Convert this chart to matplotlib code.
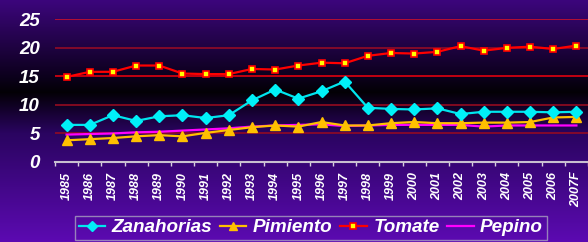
import numpy as np
import matplotlib.pyplot as plt
from matplotlib.colors import LinearSegmentedColormap

anios = ["1985", "1986", "1987", "1988", "1989", "1990", "1991", "1992", "1993",
         "1994", "1995", "1996", "1997", "1998", "1999", "2000", "2001", "2002",
         "2003", "2004", "2005", "2006", "2007F"]
zanahorias = [6.5, 6.5, 8.2, 7.2, 8.0, 8.2, 7.7, 8.2, 10.8, 12.7, 11.1, 12.4,
              14.1, 9.5, 9.3, 9.2, 9.4, 8.4, 8.8, 8.8, 8.8, 8.7, 8.8]
pimiento = [3.8, 4.0, 4.2, 4.5, 4.7, 4.5, 5.1, 5.6, 6.1, 6.4, 6.2, 7.0,
            6.4, 6.4, 6.8, 7.0, 6.8, 6.8, 6.9, 6.9, 7.0, 7.8, 7.9]
tomate = [14.9, 15.8, 15.8, 16.9, 16.9, 15.5, 15.4, 15.4, 16.3, 16.2, 16.9, 17.4,
          17.3, 18.6, 19.1, 19.0, 19.3, 20.3, 19.5, 20.0, 20.2, 19.8, 20.4]
pepino = [4.8, 4.9, 5.0, 5.2, 5.3, 5.5, 5.7, 5.9, 6.2, 6.4, 6.5, 6.6,
          6.3, 6.4, 6.5, 6.5, 6.5, 6.5, 6.2, 6.4, 6.4, 6.4, 6.4]

plt.rcParams['font.family'] = ['Liberation Sans', 'DejaVu Sans']

fig = plt.figure(figsize=(5.88, 2.42), dpi=100)

# fondo degradado morado - negro - morado
bg = fig.add_axes([0, 0, 1, 1], zorder=-10)
cmap = LinearSegmentedColormap.from_list(
    "fondo", [(0, "#3c067c"), (0.33, "#0a0018"), (0.38, "#030005"),
              (0.55, "#2a0460"), (1, "#5c0ab2")])
bg.imshow(np.linspace(0, 1, 256).reshape(-1, 1), aspect="auto", cmap=cmap,
          extent=[0, 1, 0, 1])
bg.axis("off")

ax = fig.add_axes([55 / 588, 80 / 242, 533 / 588, 142.7 / 242])
ax.patch.set_alpha(0)
x = np.arange(len(anios))

colores_grid = {5: "#8a0a28", 10: "#8a0a20", 15: "#d00010", 20: "#8a0a28", 25: "#c01030"}
for v, c in colores_grid.items():
    ax.axhline(v, color=c, lw=1.3, zorder=1)

ax.plot(x, pepino, color="#ff00ff", lw=1.6, label="Pepino", zorder=3)
ax.plot(x, pimiento, color="#ffc000", lw=1.6, marker="^", ms=6.5,
        markerfacecolor="#ffc000", markeredgecolor="#ffc000", label="Pimiento", zorder=4)
ax.plot(x, zanahorias, color="#00e5ee", lw=1.6, marker="D", ms=6,
        markerfacecolor="#00f0f8", markeredgecolor="#00f0f8", label="Zanahorias", zorder=5)
ax.plot(x, tomate, color="#ff0000", lw=1.6, marker="s", ms=5,
        markerfacecolor="#ffff00", markeredgecolor="#ff0000", markeredgewidth=1.2,
        label="Tomate", zorder=6)

ax.set_xlim(-0.47, 22.35)
ax.set_ylim(0, 25)
ax.set_yticks([0, 5, 10, 15, 20, 25])
ax.tick_params(axis="y", length=0, pad=11, colors="white", labelsize=13.5)
for t in ax.get_yticklabels():
    t.set_fontweight("bold")
    t.set_fontstyle("italic")

ax.set_xticks(x)
ax.set_xticklabels(anios, rotation=90, fontsize=9, fontweight="bold",
                   fontstyle="italic", color="white")
ax.set_xticks(np.append(x - 0.5, 22.5), minor=True)
ax.tick_params(axis="x", which="major", length=0, pad=7)
ax.tick_params(axis="x", which="minor", length=3, color="#d8d0e0", width=1)

for s in ["top", "right", "left"]:
    ax.spines[s].set_visible(False)
ax.spines["bottom"].set_color("#c8c0d0")
ax.spines["bottom"].set_linewidth(1.5)

handles, labels = ax.get_legend_handles_labels()
orden = ["Zanahorias", "Pimiento", "Tomate", "Pepino"]
hs = [handles[labels.index(n)] for n in orden]
leg = fig.legend(hs, orden, loc="upper left", bbox_to_anchor=(75 / 588, 26.5 / 242),
                 ncol=4, frameon=True, fancybox=False,
                 prop={"weight": "bold", "style": "italic", "size": 13.6},
                 handlelength=1.4, handletextpad=0.35, columnspacing=0.4,
                 borderpad=0.2, borderaxespad=0, markerscale=0.8)
leg.get_frame().set_facecolor("none")
leg.get_frame().set_edgecolor("#a8a0c0")
leg.get_frame().set_linewidth(1)
for t in leg.get_texts():
    t.set_color("white")

fig.savefig("out.png", dpi=100)
